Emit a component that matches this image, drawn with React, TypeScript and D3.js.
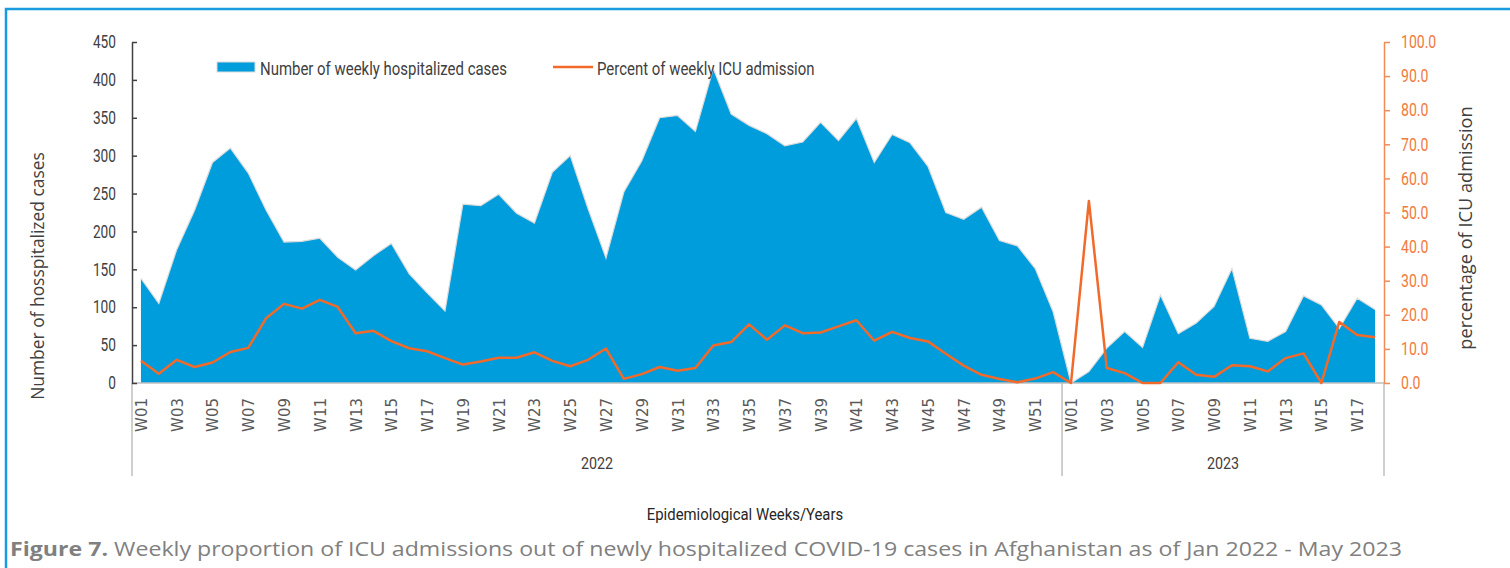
import React, { useEffect, useRef } from 'react';
import * as d3 from 'd3';

// weekly labels for each year
const weeks2022 = d3.range(1, 53).map(w => `W${String(w).padStart(2, '0')}`);
const weeks2023 = d3.range(1, 19).map(w => `W${String(w).padStart(2, '0')}`);
const years = ['2022', '2023'];

const cases2022 = [138, 105, 176, 228, 291, 310, 277, 228, 186, 187, 191, 166, 149, 168, 184, 144, 119, 95, 236, 234,
  249, 224, 211, 278, 300, 230, 165, 252, 293, 350, 353, 332, 415, 355, 340, 329, 313, 318, 344, 320,
  349, 291, 328, 317, 286, 225, 216, 232, 188, 181, 151, 94];
const cases2023 = [0, 15, 46, 68, 47, 116, 65, 79, 101, 151, 59, 55, 68, 115, 103, 72, 112, 97];

const icu2022 = [6.5, 2.7, 6.8, 4.7, 6.0, 9.1, 10.3, 19.0, 23.2, 21.8, 24.4, 22.3, 14.6, 15.3, 12.3, 10.2, 9.3, 7.3, 5.4, 6.3,
  7.4, 7.4, 9.0, 6.5, 4.9, 6.8, 10.1, 1.2, 2.6, 4.7, 3.6, 4.4, 11.0, 12.0, 17.2, 12.7, 16.9, 14.6, 14.8, 16.6,
  18.4, 12.4, 15.0, 13.2, 12.2, 8.6, 5.1, 2.4, 1.2, 0.2, 1.3, 3.2];
const icu2023 = [0, 53.4, 4.4, 2.9, 0, 0, 6.1, 2.4, 1.8, 5.2, 4.9, 3.4, 7.3, 8.7, 0, 17.9, 14.1, 13.4];

const leftTicks = d3.range(0, 451, 50);
const rightTicks = d3.range(0, 101, 10);

// no condensed font installed, so Roboto is squeezed with textLength
const NARROW = "Roboto, sans-serif";
const OPEN = "'Open Sans', 'DejaVu Sans', sans-serif";
const BLUE = '#009ddd';
const ORANGE = '#f26a2a';
const AXIS_ORANGE = '#f28c57';

const squeeze = (sel: any, factor: number) => {
  sel.each(function (this: SVGTextElement) {
    const len = this.getComputedTextLength();
    this.setAttribute('textLength', String(len * factor));
    this.setAttribute('lengthAdjust', 'spacingAndGlyphs');
  });
};

const App = () => {
  const ref = useRef<SVGSVGElement>(null);
  const width = 1510;
  const height = 568;

  useEffect(() => {
    const svg = d3.select(ref.current);
    svg.selectAll('*').remove();

    const rows = [
      ...weeks2022.map((w, i) => ({ key: `2022-${w}`, week: w, year: '2022', cases: cases2022[i], icu: icu2022[i] })),
      ...weeks2023.map((w, i) => ({ key: `2023-${w}`, week: w, year: '2023', cases: cases2023[i], icu: icu2023[i] })),
    ];

    const left = 132, right = 1384, top = 42, bottom = 383;

    const x = d3.scaleBand().domain(rows.map(d => d.key)).range([left, right]).padding(0);
    const cx = (k: string) => (x(k) as number) + x.bandwidth() / 2;
    const yL = d3.scaleLinear().domain([0, 450]).range([bottom, top]);
    const yR = d3.scaleLinear().domain([0, 100]).range([bottom, top]);

    // frame
    svg.append('path')
      .attr('d', `M6,${height} V9 H${width}`)
      .attr('fill', 'none')
      .attr('stroke', '#1a9be0')
      .attr('stroke-width', 2.5);

    // area
    const area = d3.area<any>()
      .x(d => cx(d.key))
      .y0(yL(0))
      .y1(d => yL(d.cases));
    svg.append('path')
      .datum(rows)
      .attr('d', area)
      .attr('fill', BLUE);
    svg.append('path')
      .datum(rows)
      .attr('d', d3.line<any>().x(d => cx(d.key)).y(d => yL(d.cases)))
      .attr('fill', 'none')
      .attr('stroke', '#dcdcdc')
      .attr('stroke-width', 1.2);

    // x axis base line
    svg.append('line')
      .attr('x1', left).attr('x2', right)
      .attr('y1', bottom).attr('y2', bottom)
      .attr('stroke', '#bfbfbf').attr('stroke-width', 1.5);

    // year separators
    const sepX = [left, x('2023-W01') as number, right];
    sepX.forEach(sx => {
      svg.append('line')
        .attr('x1', sx).attr('x2', sx)
        .attr('y1', bottom).attr('y2', 476)
        .attr('stroke', '#bfbfbf').attr('stroke-width', 1.5);
    });

    // week labels (every other week)
    rows.forEach(d => {
      const n = +d.week.slice(1);
      if (n % 2 === 0) return;
      svg.append('text')
        .attr('transform', `translate(${cx(d.key) + 6},398) rotate(-90)`)
        .attr('text-anchor', 'end')
        .style('font-family', "'DejaVu Sans', sans-serif")
        .style('font-size', '15px')
        .attr('fill', '#595959')
        .text(d.week);
    });

    // year labels
    years.forEach((yr, i) => {
      svg.append('text')
        .attr('class', 'yr')
        .attr('x', (sepX[i] + sepX[i + 1]) / 2)
        .attr('y', 469)
        .attr('text-anchor', 'middle')
        .style('font-family', NARROW)
        .style('font-size', '17px')
        .attr('fill', '#404040')
        .text(yr);
    });
    squeeze(svg.selectAll('.yr'), 0.84);

    // left axis
    const gL = svg.append('g')
      .attr('transform', `translate(${left},0)`)
      .call(d3.axisLeft(yL).tickValues(leftTicks).tickSizeInner(-5).tickSizeOuter(0).tickPadding(16));
    gL.select('.domain').attr('stroke', '#404040').attr('stroke-width', 1.5);
    gL.selectAll('.tick line').attr('stroke', '#404040').attr('stroke-width', 1.5);
    gL.selectAll('.tick text')
      .style('font-family', NARROW)
      .style('font-size', '18px')
      .attr('fill', '#404040');
    squeeze(gL.selectAll('.tick text'), 0.76);

    // right axis
    const gR = svg.append('g')
      .attr('transform', `translate(${right},0)`)
      .call(d3.axisRight(yR).tickValues(rightTicks).tickSizeInner(6).tickSizeOuter(0).tickPadding(11).tickFormat(d3.format('.1f')));
    gR.select('.domain').attr('stroke', AXIS_ORANGE).attr('stroke-width', 1.5);
    gR.selectAll('.tick line').attr('stroke', AXIS_ORANGE).attr('stroke-width', 1.5);
    gR.selectAll('.tick text')
      .style('font-family', NARROW)
      .style('font-size', '18px')
      .attr('fill', '#f07a3c');
    squeeze(gR.selectAll('.tick text'), 0.78);

    // icu line
    svg.append('path')
      .datum(rows)
      .attr('d', d3.line<any>().x(d => cx(d.key)).y(d => yR(d.icu)))
      .attr('fill', 'none')
      .attr('stroke', ORANGE)
      .attr('stroke-width', 2.5)
      .attr('stroke-linejoin', 'round');

    // axis titles
    svg.append('text')
      .attr('transform', 'translate(44,276) rotate(-90)')
      .attr('text-anchor', 'middle')
      .style('font-family', OPEN)
      .style('font-size', '17.4px')
      .attr('fill', '#404040')
      .text('Number of hosspitalized cases');

    svg.append('text')
      .attr('transform', 'translate(1472,228) rotate(-90)')
      .attr('text-anchor', 'middle')
      .style('font-family', OPEN)
      .style('font-size', '18.2px')
      .attr('fill', '#404040')
      .text('percentage of ICU admission');

    const xt = svg.append('text')
      .attr('x', 745)
      .attr('y', 520)
      .attr('text-anchor', 'middle')
      .style('font-family', NARROW)
      .style('font-size', '17px')
      .attr('fill', '#262626')
      .text('Epidemiological Weeks/Years');
    squeeze(xt, 0.875);

    // legend
    const lg = svg.append('g');
    lg.append('rect')
      .attr('x', 217).attr('y', 62)
      .attr('width', 38).attr('height', 10)
      .attr('fill', BLUE)
      .attr('stroke', '#dcdcdc');
    lg.append('text')
      .attr('class', 'lgt')
      .attr('x', 260).attr('y', 75)
      .style('font-family', NARROW)
      .style('font-size', '18px')
      .attr('fill', '#404040')
      .text('Number of weekly hospitalized cases');
    lg.append('line')
      .attr('x1', 553).attr('x2', 593)
      .attr('y1', 67).attr('y2', 67)
      .attr('stroke', ORANGE).attr('stroke-width', 2.5);
    lg.append('text')
      .attr('class', 'lgt')
      .attr('x', 597).attr('y', 75)
      .style('font-family', NARROW)
      .style('font-size', '18px')
      .attr('fill', '#404040')
      .text('Percent of weekly ICU admission');
    squeeze(lg.selectAll('.lgt'), 0.83);

    // caption
    const cap = svg.append('text')
      .attr('x', 10).attr('y', 556)
      .style('font-family', OPEN)
      .style('font-size', '20px')
      .attr('fill', '#808080');
    cap.append('tspan').style('font-weight', 'bold').text('Figure 7.');
    cap.append('tspan').text(' Weekly proportion of ICU admissions out of newly hospitalized COVID-19 cases in Afghanistan as of Jan 2022 - May 2023');
    cap.attr('textLength', 1392).attr('lengthAdjust', 'spacingAndGlyphs');
  }, []);

  return (
    <div style={{ position: 'absolute', left: 0, top: 0 }}>
      <svg ref={ref} width={width} height={height} />
    </div>
  );
};

export default App;
